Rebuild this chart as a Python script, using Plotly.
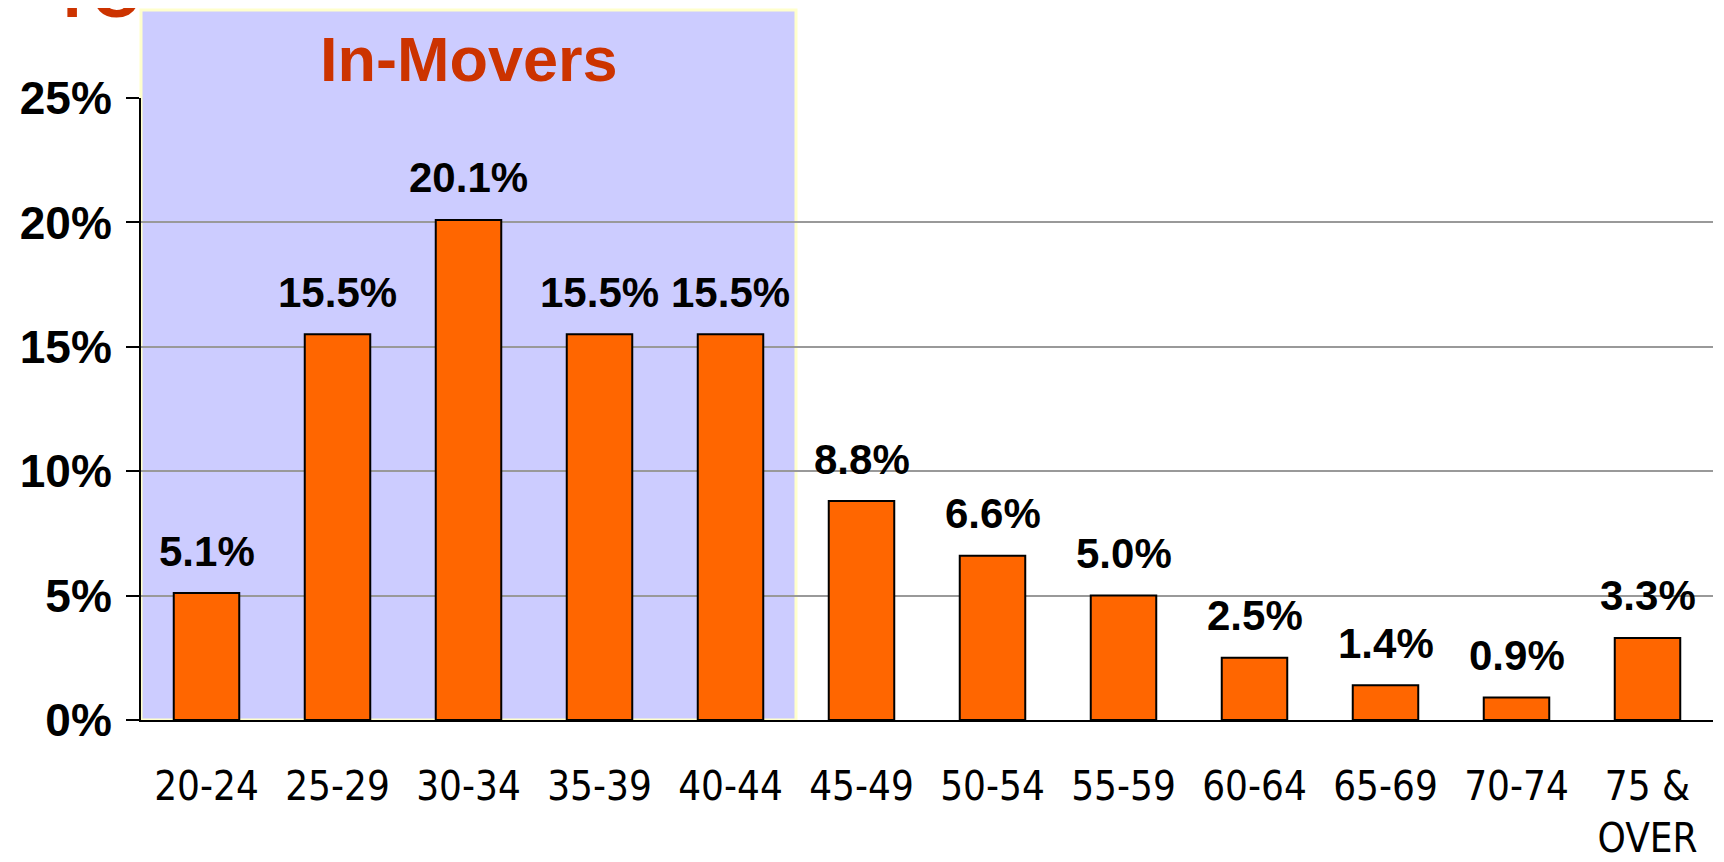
import plotly.graph_objects as go

# age bands and share of in-movers (%)
age_groups = ["20-24", "25-29", "30-34", "35-39", "40-44", "45-49",
              "50-54", "55-59", "60-64", "65-69", "70-74", "75 &<br>OVER"]
shares = [5.1, 15.5, 20.1, 15.5, 15.5, 8.8, 6.6, 5.0, 2.5, 1.4, 0.9, 3.3]
share_labels = ["5.1%", "15.5%", "20.1%", "15.5%", "15.5%", "8.8%",
                "6.6%", "5.0%", "2.5%", "1.4%", "0.9%", "3.3%"]
y_ticks = [0, 5, 10, 15, 20, 25]
highlight_groups = 5  # first five bands sit in the shaded block

bold_font = "Liberation Sans, Arial, sans-serif"
narrow_font = "Liberation Sans Narrow, Arial Narrow, DejaVu Sans Condensed, sans-serif"

fig = go.Figure()
fig.add_trace(go.Bar(
    x=age_groups, y=shares, width=0.5,
    marker=dict(color="#ff6600", line=dict(color="black", width=2)),
    hoverinfo="skip",
))

for grp, val, lab in zip(age_groups, shares, share_labels):
    fig.add_annotation(x=grp, y=val, text="<b>%s</b>" % lab, showarrow=False,
                       yanchor="middle", yshift=42,
                       font=dict(family=bold_font, size=42, color="black"))

# shaded block behind the younger age bands
fig.add_shape(type="rect", xref="paper", yref="paper",
              x0=0, x1=highlight_groups / len(age_groups), y0=0, y1=1.1415,
              fillcolor="#ccccff", line=dict(color="#ffffcc", width=3),
              layer="below")

fig.add_annotation(xref="paper", yref="paper", x=highlight_groups / len(age_groups) / 2,
                   y=1.062, text="<b>In-Movers</b>", showarrow=False,
                   xanchor="center", yanchor="middle",
                   font=dict(family=bold_font, size=63, color="#cc3300"))

# clipped title fragment at the very top of the slide
fig.add_annotation(xref="paper", yref="paper", x=-0.058, y=1.104,
                   text="<b>TO</b>", showarrow=False,
                   xanchor="left", yanchor="bottom",
                   font=dict(family=bold_font, size=66, color="#cc3300"))

# the page body adds an 8px offset, so margins are trimmed on top/left
fig.update_layout(
    width=1724, height=862,
    margin=dict(l=133, r=19, t=90, b=150),
    plot_bgcolor="rgba(0,0,0,0)", paper_bgcolor="white",
    showlegend=False, bargap=0.5,
)
fig.update_xaxes(
    automargin=False,
    showline=True, linecolor="black", linewidth=2,
    showgrid=False, ticks="", ticklabelstandoff=30,
    tickfont=dict(family=narrow_font, size=40, color="black"),
)
fig.update_yaxes(
    automargin=False,
    range=[0, 25], tickvals=y_ticks,
    ticktext=["<b>%d%%</b>" % v for v in y_ticks],
    showline=True, linecolor="black", linewidth=2,
    ticks="outside", ticklen=13, tickwidth=2, tickcolor="black",
    ticklabelstandoff=5,
    showgrid=True, gridcolor="#999999", gridwidth=2, zeroline=False,
    tickfont=dict(family=bold_font, size=46, color="black"),
)

fig.write_html("out.html")
